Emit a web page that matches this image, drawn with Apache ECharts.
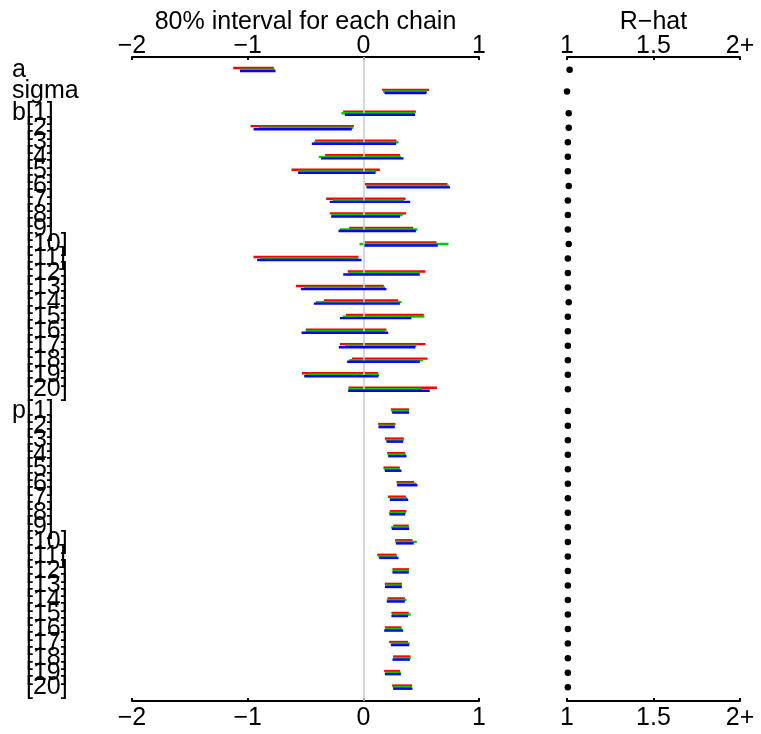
<!DOCTYPE html>
<html>
<head>
<meta charset="utf-8">
<script src="https://cdn.jsdelivr.net/npm/echarts@6/dist/echarts.min.js"></script>
<style>
  html, body { margin: 0; padding: 0; background: #ffffff; }
  #chart { width: 761px; height: 734px; }
</style>
</head>
<body>
<div id="chart"></div>
<script>
// Parameter names and their lengths (order of rows, top to bottom)
const paramNames = ['a', 'sigma', 'b', 'p'];
const paramLengths = [1, 1, 20, 20];

// 80% intervals [low, high] for each chain, rows: a, sigma, b[1..20], p[1..20]
const chain1 = [
  [-1.125, -0.774], [0.163, 0.569],
  [-0.174, 0.454], [-0.975, -0.082], [-0.416, 0.287], [-0.330, 0.318], [-0.621, 0.143],
  [0.013, 0.727], [-0.321, 0.365], [-0.290, 0.370], [-0.122, 0.431], [0.010, 0.632],
  [-0.949, -0.042], [-0.134, 0.537], [-0.583, 0.177], [-0.341, 0.301], [-0.151, 0.523],
  [-0.497, 0.200], [-0.203, 0.537], [-0.099, 0.555], [-0.531, 0.128], [-0.128, 0.638],
  [0.238, 0.396], [0.128, 0.278], [0.186, 0.350], [0.206, 0.362], [0.174, 0.315],
  [0.287, 0.439], [0.212, 0.367], [0.229, 0.373], [0.258, 0.393], [0.275, 0.425],
  [0.120, 0.287], [0.252, 0.396], [0.186, 0.333], [0.209, 0.359], [0.243, 0.393],
  [0.186, 0.330], [0.223, 0.387], [0.258, 0.408], [0.180, 0.318], [0.249, 0.422]
];
const chain2 = [
  [-1.067, -0.762], [0.171, 0.552],
  [-0.189, 0.445], [-0.903, -0.088], [-0.425, 0.304], [-0.385, 0.324], [-0.564, 0.114],
  [0.027, 0.742], [-0.261, 0.350], [-0.272, 0.339], [-0.203, 0.468], [-0.033, 0.736],
  [-0.889, -0.045], [-0.117, 0.480], [-0.514, 0.189], [-0.411, 0.330], [-0.180, 0.529],
  [-0.497, 0.186], [-0.160, 0.459], [-0.122, 0.517], [-0.497, 0.137], [-0.128, 0.506],
  [0.243, 0.396], [0.134, 0.272], [0.194, 0.350], [0.212, 0.367], [0.180, 0.315],
  [0.290, 0.459], [0.229, 0.379], [0.223, 0.367], [0.241, 0.396], [0.278, 0.462],
  [0.128, 0.292], [0.252, 0.396], [0.192, 0.333], [0.203, 0.373], [0.249, 0.410],
  [0.189, 0.336], [0.238, 0.402], [0.258, 0.410], [0.192, 0.324], [0.255, 0.416]
];
const chain3 = [
  [-1.067, -0.759], [0.183, 0.546],
  [-0.160, 0.448], [-0.949, -0.099], [-0.445, 0.284], [-0.367, 0.347], [-0.564, 0.105],
  [0.027, 0.750], [-0.290, 0.405], [-0.278, 0.318], [-0.215, 0.454], [0.010, 0.644],
  [-0.918, -0.016], [-0.174, 0.488], [-0.540, 0.200], [-0.428, 0.316], [-0.203, 0.416],
  [-0.534, 0.215], [-0.212, 0.450], [-0.140, 0.488], [-0.511, 0.131], [-0.131, 0.574],
  [0.249, 0.396], [0.131, 0.272], [0.200, 0.344], [0.215, 0.373], [0.186, 0.330],
  [0.292, 0.468], [0.229, 0.388], [0.226, 0.362], [0.246, 0.396], [0.281, 0.436],
  [0.137, 0.304], [0.252, 0.393], [0.186, 0.333], [0.203, 0.359], [0.243, 0.387],
  [0.180, 0.344], [0.238, 0.396], [0.252, 0.402], [0.186, 0.324], [0.258, 0.425]
];

// Potential scale reduction factor for each row
const rhat = [
  1.015, 1.000,
  1.010, 1.010, 1.005, 1.005, 1.005, 1.010, 1.005, 1.005, 1.005, 1.010,
  1.005, 1.005, 1.005, 1.010, 1.005, 1.005, 1.005, 1.005, 1.005, 1.005,
  1.005, 1.005, 1.005, 1.005, 1.005, 1.005, 1.005, 1.005, 1.005, 1.005,
  1.005, 1.005, 1.005, 1.005, 1.005, 1.005, 1.005, 1.005, 1.005, 1.005
];

// Tick labels for the two panels
const intervalTicks = [-2, -1, 0, 1];
const rhatTicks = ['1', '1.5', '2+'];

const chainColors = ['#ff0000', '#00cc00', '#0000ff'];
const chainOffsets = [-1.6, 0, 1.5];
const FONT = '"Liberation Sans", Arial, Helvetica, sans-serif';
const FONT_SIZE = 25;

// Row layout: one unit per element, half a unit between parameters
const rows = [];
let pos = 0;
paramNames.forEach(function (name, gi) {
  if (gi > 0) pos += 0.5;
  for (let k = 1; k <= paramLengths[gi]; k++) {
    rows.push({
      name: k === 1 ? name : '',
      index: paramLengths[gi] > 1 ? '[' + k + ']' : '',
      pos: pos
    });
    pos += 1;
  }
});

const Y_MIN = -0.87, Y_MAX = 43.45;

function minusFmt(v) {
  return v < 0 ? '\u2212' + Math.abs(v) : String(v);
}

function xAxisBase(gridIndex, position, min, max, interval, fmt) {
  return {
    gridIndex: gridIndex,
    type: 'value',
    position: position,
    min: min, max: max, interval: interval,
    axisLine: { show: true, onZero: false, lineStyle: { color: '#000', width: 2 } },
    axisTick: { show: true, inside: true, length: 3, lineStyle: { color: '#000', width: 2 } },
    axisLabel: {
      show: true, color: '#000', fontSize: FONT_SIZE, fontFamily: FONT,
      margin: position === 'top' ? -2 : 5, formatter: fmt
    },
    splitLine: { show: false },
    nameMoveOverlap: false,
    nameTextStyle: { color: '#000', fontSize: FONT_SIZE, fontFamily: FONT }
  };
}

const intervalFmt = function (v) {
  const t = intervalTicks.find(function (x) { return Math.abs(x - v) < 1e-9; });
  return t === undefined ? '' : minusFmt(t);
};
const rhatFmt = function (v) {
  const i = Math.round((v - 1) / 0.5);
  return rhatTicks[i] || '';
};

const xTopL = xAxisBase(0, 'top', -2, 1, 1, intervalFmt);
xTopL.name = '80% interval for each chain';
xTopL.nameLocation = 'middle';
xTopL.nameGap = 22;
const xBotL = xAxisBase(0, 'bottom', -2, 1, 1, intervalFmt);
const xTopR = xAxisBase(1, 'top', 1, 2, 0.5, rhatFmt);
xTopR.name = 'R\u2212hat';
xTopR.nameLocation = 'middle';
xTopR.nameGap = 22;
const xBotR = xAxisBase(1, 'bottom', 1, 2, 0.5, rhatFmt);

function intervalSeries(chain, ci) {
  return {
    type: 'custom',
    xAxisIndex: 0, yAxisIndex: 0,
    z: 3 + ci,
    silent: true,
    clip: false,
    encode: { x: [1, 2], y: 0 },
    data: chain.map(function (d, i) { return [rows[i].pos, d[0], d[1]]; }),
    renderItem: function (params, api) {
      const p1 = api.coord([api.value(1), api.value(0)]);
      const p2 = api.coord([api.value(2), api.value(0)]);
      const dy = chainOffsets[ci];
      return {
        type: 'line',
        shape: { x1: p1[0], y1: p1[1] + dy, x2: p2[0], y2: p2[1] + dy },
        style: { stroke: chainColors[ci], lineWidth: 2.4 }
      };
    }
  };
}

const labelSeries = {
  type: 'custom',
  xAxisIndex: 0, yAxisIndex: 0,
  silent: true,
  clip: false,
  encode: { x: 1, y: 0 },
  data: rows.map(function (r) { return [r.pos, -2]; }),
  renderItem: function (params, api) {
    const r = rows[params.dataIndex];
    const y = api.coord([-2, api.value(0)])[1];
    const font = FONT_SIZE + 'px ' + FONT;
    const children = [];
    if (r.name) {
      children.push({
        type: 'text',
        style: { text: r.name, x: 12, y: y, fill: '#000', font: font, align: 'left', verticalAlign: 'middle' }
      });
    }
    if (r.index) {
      children.push({
        type: 'text',
        style: { text: r.index, x: 26, y: y, fill: '#000', font: font, align: 'left', verticalAlign: 'middle' }
      });
    }
    return { type: 'group', children: children };
  }
};

const zeroLineSeries = {
  type: 'line',
  xAxisIndex: 0, yAxisIndex: 0,
  z: 1,
  silent: true,
  symbol: 'none',
  data: [],
  markLine: {
    silent: true,
    symbol: 'none',
    label: { show: false },
    lineStyle: { color: '#cfcfcf', width: 1.6, type: 'solid' },
    data: [{ xAxis: 0 }]
  }
};

const rhatSeries = {
  type: 'scatter',
  xAxisIndex: 2, yAxisIndex: 1,
  silent: true,
  symbol: 'circle',
  symbolSize: 6.5,
  itemStyle: { color: '#000', opacity: 1 },
  data: rhat.map(function (v, i) { return [Math.min(v, 2), rows[i].pos]; })
};

const option = {
  animation: false,
  backgroundColor: '#ffffff',
  grid: [
    { left: 132, width: 347, top: 57, height: 644, containLabel: false, outerBoundsMode: 'none' },
    { left: 567, width: 173, top: 57, height: 644, containLabel: false, outerBoundsMode: 'none' }
  ],
  xAxis: [xTopL, xBotL, xTopR, xBotR],
  yAxis: [
    { gridIndex: 0, type: 'value', inverse: true, min: Y_MIN, max: Y_MAX, show: false },
    { gridIndex: 1, type: 'value', inverse: true, min: Y_MIN, max: Y_MAX, show: false }
  ],
  series: [
    zeroLineSeries,
    intervalSeries(chain1, 0),
    intervalSeries(chain2, 1),
    intervalSeries(chain3, 2),
    labelSeries,
    rhatSeries
  ]
};

const chart = echarts.init(document.getElementById('chart'), null, { renderer: 'canvas' });
chart.setOption(option);
</script>
</body>
</html>
